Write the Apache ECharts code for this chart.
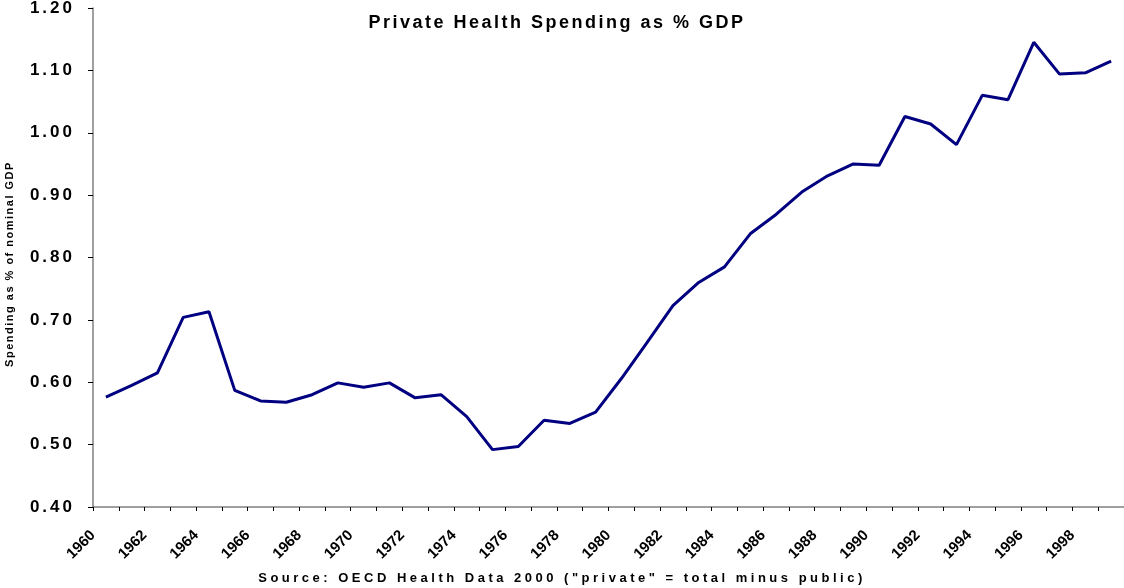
<!DOCTYPE html>
<html>
<head>
<meta charset="utf-8">
<title>Private Health Spending as % GDP</title>
<style>
  html, body { margin: 0; padding: 0; background: #ffffff; }
  #chart { width: 1124px; height: 588px; }
</style>
<script src="https://cdn.jsdelivr.net/npm/echarts@6/dist/echarts.min.js"></script>
</head>
<body>
<div id="chart"></div>
<script>
// Years on the category axis (one point per year)
const years = [
  '1960','1961','1962','1963','1964','1965','1966','1967','1968','1969',
  '1970','1971','1972','1973','1974','1975','1976','1977','1978','1979',
  '1980','1981','1982','1983','1984','1985','1986','1987','1988','1989',
  '1990','1991','1992','1993','1994','1995','1996','1997','1998','1999'
];

// Private health spending, % of nominal GDP
const privateShare = [
  0.576, 0.595, 0.615, 0.704, 0.713, 0.587, 0.570, 0.568, 0.580, 0.599,
  0.592, 0.599, 0.575, 0.580, 0.545, 0.492, 0.497, 0.539, 0.534, 0.552,
  0.606, 0.664, 0.723, 0.760, 0.785, 0.838, 0.869, 0.905, 0.931, 0.950,
  0.948, 1.026, 1.014, 0.981, 1.060, 1.053, 1.145, 1.094, 1.096, 1.115
];

// Year labels sit on the boundaries between yearly categories
const yearTickLabels = [
  '1960','1962','1964','1966','1968','1970','1972','1974','1976','1978',
  '1980','1982','1984','1986','1988','1990','1992','1994','1996','1998'
];

// Value axis range
const yMin = 0.4, yMax = 1.2, yStep = 0.1;

const titleText = 'Private Health Spending as % GDP';
const sourceText = 'Source: OECD Health Data 2000 ("private" = total minus public)';
const yAxisTitle = 'Spending as % of nominal GDP';

// Letter spacing (px) keyed by font size, for the spaced-out headings and value labels
const spacingBySize = { 18: 2.5, 17: 3, 13: 3.5, 11: 1.5 };
(function () {
  const proto = CanvasRenderingContext2D.prototype;
  const origFill = proto.fillText;
  proto.fillText = function (text, x, y, maxWidth) {
    const m = /(\d+(?:\.\d+)?)px/.exec(this.font || '');
    const ls = m ? spacingBySize[Math.round(parseFloat(m[1]))] : undefined;
    if ('letterSpacing' in this) this.letterSpacing = ls ? ls + 'px' : '0px';
    return maxWidth === undefined ? origFill.call(this, text, x, y) : origFill.call(this, text, x, y, maxWidth);
  };
})();

// Boundary axis: one slot per year boundary (1960 .. 2000), labels every other
const boundaries = [];
for (let i = 0; i <= years.length; i++) {
  boundaries.push(i % 2 === 0 ? (yearTickLabels[i / 2] || '') : '');
}

const FONT = '"Liberation Sans", Arial, sans-serif';
const axisGrey = '#808080';

const chart = echarts.init(document.getElementById('chart'), null, { renderer: 'canvas' });

chart.setOption({
  animation: false,
  backgroundColor: '#ffffff',
  grid: { left: 93, right: 0, top: 8, bottom: 81, containLabel: false, outerBoundsMode: 'none' },
  xAxis: [
    {
      type: 'category',
      data: years,
      boundaryGap: true,
      position: 'bottom',
      axisLine: { show: true, lineStyle: { color: axisGrey, width: 1.5 } },
      axisTick: { show: true, interval: 0, length: 4, lineStyle: { color: '#000', width: 1 } },
      axisLabel: { show: false },
      splitLine: { show: false }
    },
    {
      type: 'category',
      data: boundaries,
      boundaryGap: false,
      position: 'bottom',
      axisLine: { show: false },
      axisTick: { show: false },
      splitLine: { show: false },
      axisLabel: {
        interval: 0,
        rotate: 45,
        margin: 26,
        hideOverlap: false,
        color: '#000',
        fontFamily: FONT,
        fontWeight: 'bold',
        fontSize: 15
      }
    }
  ],
  yAxis: {
    type: 'value',
    min: yMin,
    max: yMax,
    interval: yStep,
    axisLine: { show: true, lineStyle: { color: axisGrey, width: 1.5 } },
    axisTick: { show: true, length: 5, lineStyle: { color: '#000', width: 1 } },
    splitLine: { show: false },
    axisLabel: {
      margin: 18,
      color: '#000',
      fontFamily: FONT,
      fontWeight: 'bold',
      fontSize: 17,
      formatter: v => v.toFixed(2)
    }
  },
  series: [{
    type: 'line',
    xAxisIndex: 0,
    data: privateShare,
    symbol: 'none',
    lineStyle: { color: '#000080', width: 3 },
    itemStyle: { color: '#000080' }
  }],
  graphic: [
    {
      type: 'text', x: 557, y: 23,
      style: { text: titleText, fill: '#000', font: 'bold 18px ' + FONT, textAlign: 'center', textVerticalAlign: 'middle' }
    },
    {
      type: 'text', x: 562, y: 578,
      style: { text: sourceText, fill: '#000', font: 'bold 13px ' + FONT, textAlign: 'center', textVerticalAlign: 'middle' }
    },
    {
      type: 'text', x: 10, y: 264, rotation: Math.PI / 2,
      style: { text: yAxisTitle, fill: '#000', font: 'bold 11px ' + FONT, textAlign: 'center', textVerticalAlign: 'middle' }
    }
  ]
});
</script>
</body>
</html>
